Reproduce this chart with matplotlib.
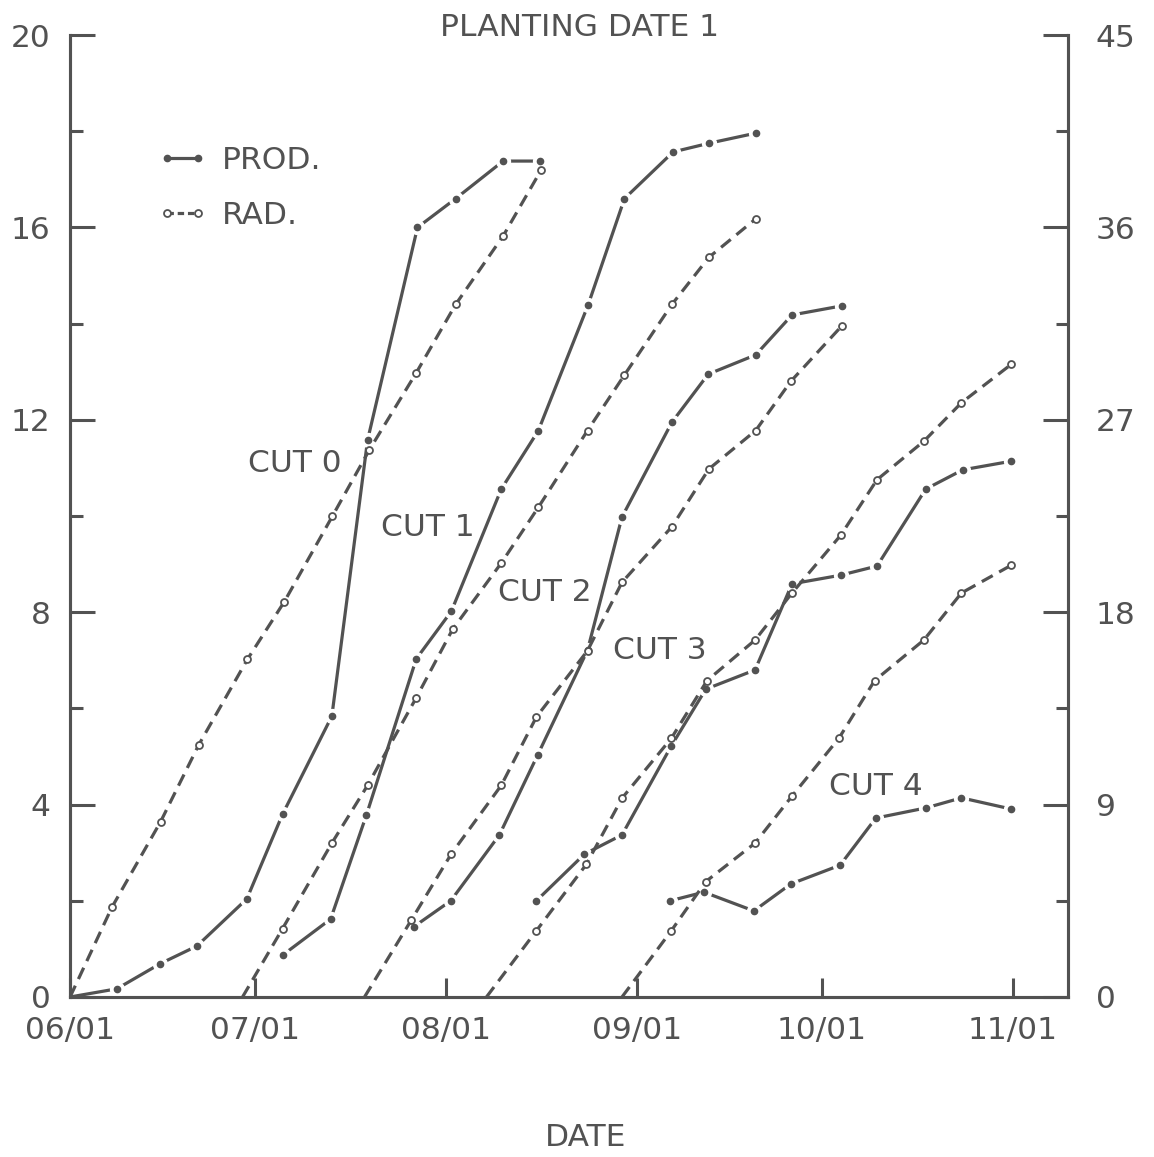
# -*- coding: utf-8 -*-
"""Planting date 1: accumulated production and radiation per cut."""
import numpy as np
import matplotlib
matplotlib.use("Agg")
import matplotlib.pyplot as plt
from matplotlib.lines import Line2D

INK = "#525252"
FS = 22.5

# days after 06/01
MONTH_DAYS = [0, 30, 61, 92, 122, 153]
MONTH_LABELS = ["06/01", "07/01", "08/01", "09/01", "10/01", "11/01"]

# production (left axis)
cut0_prod_day = [0, 7.6, 14.6, 20.6, 28.7, 34.5, 42.5, 48.3, 56.4, 62.6, 70.3, 76.3]
cut0_prod = [0, 0.17, 0.69, 1.06, 2.04, 3.80, 5.84, 11.58, 16.0, 16.6, 17.38, 17.38]
cut1_prod_day = [34.5, 42.3, 48.1, 56.2, 61.9, 70.0, 76.0, 84.1, 90.0, 97.9, 103.7, 111.3]
cut1_prod = [0.87, 1.62, 3.78, 7.03, 8.02, 10.56, 11.77, 14.39, 16.6, 17.57, 17.75, 17.96]
cut2_prod_day = [55.8, 61.8, 69.7, 75.9, 84.0, 89.6, 97.7, 103.6, 111.3, 117.2, 125.3]
cut2_prod = [1.46, 2.0, 3.37, 5.03, 7.21, 9.98, 11.95, 12.95, 13.35, 14.18, 14.37]
cut3_prod_day = [75.7, 83.5, 89.6, 97.6, 103.2, 111.2, 117.2, 125.1, 131.0, 138.9, 144.9, 152.8]
cut3_prod = [2.0, 2.97, 3.37, 5.22, 6.40, 6.80, 8.59, 8.77, 8.96, 10.56, 10.96, 11.14]
cut4_prod_day = [97.4, 102.9, 111.0, 117.0, 125.0, 130.8, 138.9, 144.7, 152.7]
cut4_prod = [2.0, 2.18, 1.79, 2.35, 2.74, 3.72, 3.93, 4.14, 3.91]

# radiation (right axis)
cut0_rad_day = [0, 6.8, 14.7, 20.9, 28.8, 34.8, 42.6, 48.6, 56.2, 62.6, 70.3, 76.5]
cut0_rad = [0, 4.2, 8.2, 11.8, 15.8, 18.5, 22.5, 25.6, 29.2, 32.4, 35.6, 38.7]
cut1_rad_day = [28.0, 34.5, 42.5, 48.3, 56.2, 62.1, 70.0, 76.0, 84.0, 90.0, 97.7, 103.7, 111.3]
cut1_rad = [0, 3.2, 7.2, 9.9, 14.0, 17.2, 20.3, 22.9, 26.5, 29.1, 32.4, 34.6, 36.4]
cut2_rad_day = [47.8, 55.4, 61.9, 70.0, 75.7, 84.0, 89.6, 97.7, 103.7, 111.3, 117.0, 125.3]
cut2_rad = [0, 3.6, 6.7, 9.9, 13.1, 16.2, 19.4, 22.0, 24.7, 26.5, 28.8, 31.4]
cut3_rad_day = [67.6, 75.7, 83.8, 89.6, 97.6, 103.4, 111.2, 117.2, 125.1, 131.0, 138.6, 144.7, 152.8]
cut3_rad = [0, 3.1, 6.2, 9.3, 12.1, 14.8, 16.7, 18.9, 21.6, 24.2, 26.0, 27.8, 29.6]
cut4_rad_day = [89.6, 97.6, 103.2, 111.2, 117.2, 124.8, 130.6, 138.6, 144.7, 152.8]
cut4_rad = [0, 3.1, 5.4, 7.2, 9.4, 12.1, 14.8, 16.7, 18.9, 20.2]

PROD = [(cut0_prod_day, cut0_prod), (cut1_prod_day, cut1_prod), (cut2_prod_day, cut2_prod),
        (cut3_prod_day, cut3_prod), (cut4_prod_day, cut4_prod)]
RAD = [(cut0_rad_day, cut0_rad), (cut1_rad_day, cut1_rad), (cut2_rad_day, cut2_rad),
       (cut3_rad_day, cut3_rad), (cut4_rad_day, cut4_rad)]

CUT_LABELS = ["CUT 0", "CUT 1", "CUT 2", "CUT 3", "CUT 4"]
CUT_POS = [(36.5, 11.1), (58.1, 9.77), (77.1, 8.42), (95.7, 7.21), (130.8, 4.37)]

DASH = (3.9, 2.3)


def style_axis(a):
    a.tick_params(axis="y", which="major", direction="in", length=18, width=2.2,
                  color=INK, labelcolor=INK, labelsize=FS, pad=14)
    a.tick_params(axis="y", which="minor", direction="in", length=9, width=2.2, color=INK)
    for s in a.spines.values():
        s.set_color(INK)
        s.set_linewidth(2.2)
    a.spines["top"].set_visible(False)


def main():
    plt.rcParams["font.family"] = ["DejaVu Sans"]
    fig = plt.figure(figsize=(11.54, 11.57), dpi=100)
    ax = fig.add_axes([0.0607, 0.1383, 0.8648, 0.8314])
    ax2 = ax.twinx()

    for d, v in PROD:
        me = slice(1, None) if v[0] == 0 else slice(0, None)
        ax.plot(d, v, color=INK, lw=2.3, solid_capstyle="butt", zorder=2)
        ax.plot(d, v, ls="none", marker="o", ms=10, mfc="white", mec="white",
                markevery=me, zorder=3)
        ax.plot(d, v, ls="none", marker="o", ms=4.5, mfc=INK, mec=INK,
                markevery=me, zorder=4)

    for d, v in RAD:
        ax2.plot(d, v, color=INK, lw=2.3, ls=(0, DASH), marker="o", ms=5,
                 mfc="white", mec=INK, mew=1.3, markevery=slice(1, None), zorder=2)

    ax.set_xlim(0, 162)
    ax.set_ylim(0, 20)
    ax2.set_ylim(0, 45)
    ax.set_xticks(MONTH_DAYS)
    ax.set_xticklabels(MONTH_LABELS)
    ax.set_yticks([0, 4, 8, 12, 16, 20])
    ax.set_yticks([2, 6, 10, 14, 18], minor=True)
    ax2.set_yticks([0, 9, 18, 27, 36, 45])
    ax2.set_yticks([4.5, 13.5, 22.5, 31.5, 40.5], minor=True)
    style_axis(ax)
    style_axis(ax2)
    ax.tick_params(axis="x", direction="in", length=14, width=2.2, color=INK,
                   labelcolor=INK, labelsize=FS, pad=14)
    ax2.tick_params(axis="y", pad=20)

    for lb, (x, y) in zip(CUT_LABELS, CUT_POS):
        ax.text(x, y, lb, fontsize=FS, color=INK, ha="center", va="center", zorder=5)

    handles = [
        Line2D([], [], color=INK, lw=2.3, marker="o", ms=4.5, mfc=INK, mec=INK),
        Line2D([], [], color=INK, lw=2.3, ls=(0, (2.0, 1.2)), marker="o", ms=5,
               mfc="white", mec=INK, mew=1.3),
    ]
    leg = ax.legend(handles, ["PROD.", "RAD."], loc="upper left",
                    bbox_to_anchor=(0.088, 0.885), frameon=False, numpoints=2,
                    fontsize=FS, handlelength=1.6, handletextpad=0.45,
                    labelspacing=0.85, borderpad=0, borderaxespad=0)
    for t in leg.get_texts():
        t.set_color(INK)

    fig.text(0.502, 1 - 27 / 1157, "PLANTING DATE 1", fontsize=FS, color=INK,
             ha="center", va="center")
    fig.text(0.507, 19 / 1157, "DATE", fontsize=FS, color=INK, ha="center", va="center")

    fig.savefig("out.png", dpi=100)
    plt.close(fig)


if __name__ == "__main__":
    main()
